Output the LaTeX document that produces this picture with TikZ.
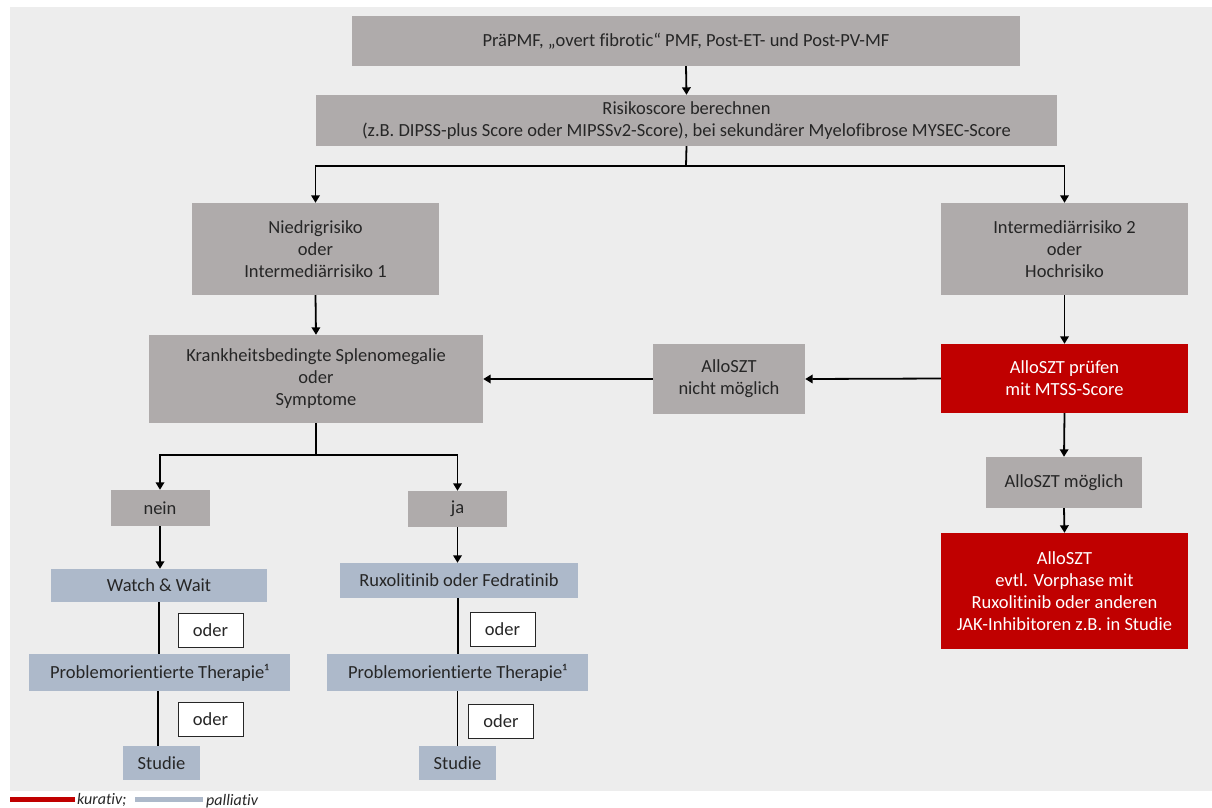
\documentclass[tikz,border=0pt]{standalone}
\usepackage{fontspec}
\setmainfont[Ligatures=NoCommon]{Carlito}
\usetikzlibrary{arrows.meta}
\definecolor{bg}{HTML}{EDEDED}
\definecolor{boxgray}{HTML}{AFABAB}
\definecolor{kurred}{HTML}{C00000}
\definecolor{palblue}{HTML}{ADB9CA}
\definecolor{txt}{HTML}{262626}
\tikzset{
  x=1pt, y=-1pt,
  base/.style={inner sep=0pt, align=center, font=\fontsize{18.5}{22}\selectfont, text=txt},
  graybox/.style={base, fill=boxgray},
  redbox/.style={base, fill=kurred, text=white},
  bluebox/.style={base, fill=palblue},
  oderbox/.style={base, fill=white, draw=txt, line width=0.9pt},
  conn/.style={line width=1.8pt, draw=black},
  arr/.style={conn, -{Triangle[length=7.5pt,width=8.5pt]}},
  legtext/.style={anchor=base west, inner sep=0pt, font=\fontsize{16}{18}\selectfont\itshape, text=txt},
  wh/.style 2 args={minimum width=#1, minimum height=#2}
}
\begin{document}
\begin{tikzpicture}
\useasboundingbox (0,0) rectangle (1212,807);
\fill[bg] (10,7) rectangle (1212,791);

\node[graybox, wh={668pt}{50pt}] (top) at (686,41) {PräPMF, „overt fibrotic“ PMF, Post-ET- und Post-PV-MF};
\node[graybox, wh={741pt}{51pt}] (risk) at (686.5,120.5) {Risikoscore berechnen\\(z.B. DIPSS-plus Score oder MIPSSv2-Score), bei sekundärer Myelofibrose MYSEC-Score};
\node[graybox, wh={247pt}{92pt}] (nied) at (315.5,249) {Niedrigrisiko\\oder\\Intermediärrisiko 1};
\node[graybox, wh={247pt}{92pt}] (inter) at (1064.5,249) {Intermediärrisiko 2\\oder\\Hochrisiko};
\node[graybox, wh={334pt}{88pt}] (krank) at (316,379) {Krankheitsbedingte Splenomegalie\\oder\\Symptome};
\node[graybox, wh={152pt}{70pt}] (nicht) at (729,379) {AlloSZT\\nicht möglich};
\node[redbox, wh={247pt}{69pt}] (pruef) at (1064.5,378.5) {AlloSZT prüfen\\mit MTSS-Score};
\node[graybox, wh={156pt}{51pt}] (moegl) at (1064,482.5) {AlloSZT möglich};
\node[redbox, wh={247pt}{116pt}] (allo) at (1064.5,591) {AlloSZT\\evtl. Vorphase mit\\Ruxolitinib oder anderen\\JAK-Inhibitoren z.B. in Studie};

\node[graybox, wh={99pt}{36pt}] (nein) at (160,508) {nein};
\node[graybox, wh={99pt}{36pt}] (ja) at (457.5,509) {ja};

\node[bluebox, wh={216pt}{33pt}] (watch) at (159,585.5) {Watch \& Wait};
\node[bluebox, wh={238pt}{35pt}] (rux) at (459,580.5) {Ruxolitinib oder Fedratinib};
\node[bluebox, wh={261pt}{37pt}] (prob1) at (159.5,672.5) {Problemorientierte Therapie¹};
\node[bluebox, wh={261pt}{37pt}] (prob2) at (457.5,672.5) {Problemorientierte Therapie¹};
\node[bluebox, wh={77pt}{34pt}] (stud1) at (161.5,763) {Studie};
\node[bluebox, wh={77pt}{34pt}] (stud2) at (457.5,763) {Studie};

\node[oderbox, wh={65pt}{34pt}] (o1) at (210.5,630) {oder};
\node[oderbox, wh={65pt}{34pt}] (o2) at (210.5,719) {oder};
\node[oderbox, wh={65pt}{34pt}] (o3) at (502.5,629) {oder};
\node[oderbox, wh={65pt}{34pt}] (o4) at (501,721) {oder};

% connectors
\draw[arr] (top.south) -- (risk.north);
\coordinate (s1) at (686,166);
\draw[conn] (risk.south) -- (s1);
\draw[arr] (s1) -| (nied.north);
\draw[arr] (s1) -| (inter.north);
\draw[arr] (nied.south) -- (krank.north);
\draw[arr] (inter.south) -- (pruef.north);
\draw[arr] (pruef.west) -- (nicht.east);
\draw[arr] (nicht.west) -- (krank.east);
\draw[arr] (pruef.south) -- (moegl.north);
\draw[arr] (moegl.south) -- (allo.north);
\coordinate (s2) at (316,455);
\draw[conn] (krank.south) -- (s2);
\draw[arr] (s2) -| (nein.north);
\draw[arr] (s2) -| (ja.north);
\draw[arr] (nein.south) -- (nein.south |- watch.north);
\draw[arr] (ja.south) -- (ja.south |- rux.north);
\draw[conn] (watch.south) -- (watch.south |- prob1.north);
\draw[conn] ([xshift=-1.5pt]prob1.south) -- ([xshift=-1.5pt]prob1.south |- stud1.north);
\draw[conn] ([xshift=-1pt]rux.south) -- ([xshift=-1pt]rux.south |- prob2.north);
\draw[conn] (prob2.south) -- (prob2.south |- stud2.north);

% legend
\coordinate (lr1) at (10,799);
\coordinate (lr2) at (75,799);
\coordinate (lb1) at (135,799);
\coordinate (lb2) at (203,799);
\draw[line width=5pt, draw=kurred] (lr1) -- (lr2);
\draw[line width=5pt, draw=palblue] (lb1) -- (lb2);
\node[legtext] (kur) at (77,804) {kurativ;};
\node[legtext] (pal) at (206,805) {palliativ};
\end{tikzpicture}
\end{document}
